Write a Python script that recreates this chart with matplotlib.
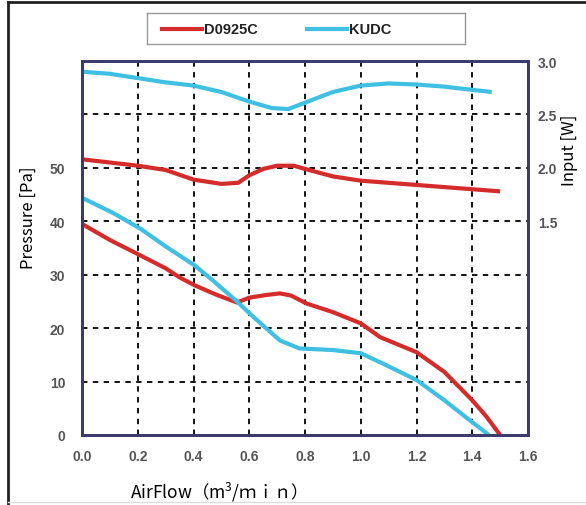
import matplotlib.pyplot as plt
from matplotlib.lines import Line2D

# pressure curves (left axis, Pa)
flow_d = [0.0, 0.1, 0.21, 0.3, 0.35, 0.405, 0.48, 0.556, 0.6, 0.66, 0.71, 0.75, 0.806, 0.9, 1.0, 1.07, 1.2, 1.3, 1.4, 1.45, 1.5]
press_d = [39.5, 36.5, 33.6, 31.2, 29.5, 28.0, 26.3, 24.8, 25.7, 26.2, 26.5, 26.1, 24.6, 23.0, 20.9, 18.3, 15.5, 11.8, 6.5, 3.5, 0.0]

flow_k = [0.0, 0.11, 0.21, 0.3, 0.405, 0.47, 0.556, 0.6, 0.66, 0.71, 0.78, 0.9, 1.0, 1.07, 1.2, 1.3, 1.4, 1.46]
press_k = [44.4, 41.6, 38.6, 35.3, 31.7, 28.9, 25.0, 22.8, 20.0, 17.7, 16.2, 15.9, 15.3, 13.6, 10.3, 6.5, 2.4, 0.0]

# input power curves (right axis, W)
flow_dw = [0.0, 0.1, 0.2, 0.3, 0.4, 0.5, 0.56, 0.6, 0.65, 0.7, 0.76, 0.8, 0.9, 1.0, 1.2, 1.4, 1.5]
input_d = [2.08, 2.05, 2.02, 1.98, 1.89, 1.85, 1.86, 1.93, 1.99, 2.02, 2.02, 1.99, 1.92, 1.88, 1.84, 1.80, 1.78]

flow_kw = [0.0, 0.1, 0.2, 0.3, 0.4, 0.5, 0.6, 0.68, 0.74, 0.8, 0.9, 1.0, 1.1, 1.2, 1.3, 1.4, 1.47]
input_k = [2.90, 2.88, 2.84, 2.80, 2.77, 2.71, 2.62, 2.56, 2.55, 2.61, 2.71, 2.77, 2.79, 2.78, 2.76, 2.73, 2.71]

xticks = [0.0, 0.2, 0.4, 0.6, 0.8, 1.0, 1.2, 1.4, 1.6]
yticks_left = [0, 10, 20, 30, 40, 50]
yticks_right = [1.5, 2.0, 2.5, 3.0]

red = '#d42b2b'
blue = '#3fc0e2'
spine_col = '#3b3b6b'
tick_col = '#555555'
label_font = ['Noto Sans CJK JP', 'DejaVu Sans']

plt.rcParams['font.family'] = ['Liberation Sans', 'DejaVu Sans']
plt.rcParams['mathtext.fontset'] = 'custom'
plt.rcParams['mathtext.rm'] = 'Noto Sans CJK JP'

fig = plt.figure(figsize=(5.86, 5.06), dpi=100)
ax = fig.add_axes([82 / 586, 1 - 436 / 506, 446 / 586, 374 / 506])
ax2 = ax.twinx()

ax.plot(flow_d, press_d, color=red, lw=3, solid_capstyle='butt', zorder=3)
ax.plot(flow_k, press_k, color=blue, lw=3, solid_capstyle='butt', zorder=3)
ax2.plot(flow_dw, input_d, color=red, lw=3, solid_capstyle='butt')
ax2.plot(flow_kw, input_k, color=blue, lw=3, solid_capstyle='butt')

ax.set_xlim(0, 1.6)
ax.set_ylim(0, 70)
ax2.set_ylim(-0.5, 3.0)

ax.set_xticks(xticks)
ax.set_xticklabels([f'{v:.1f}' for v in xticks])
ax.set_yticks(yticks_left)
ax2.set_yticks(yticks_right)
ax2.set_yticklabels([f'{v:.1f}' for v in yticks_right])

# dashed grid
for gx in xticks[1:-1]:
    ax.axvline(gx, color='black', ls=(0, (3, 3)), lw=1.3, zorder=1)
for gy in [10, 20, 30, 40, 50, 60]:
    ax.axhline(gy, color='black', ls=(0, (3, 3)), lw=1.3, zorder=1)

for a in (ax, ax2):
    for s in a.spines.values():
        s.set_color(spine_col)
        s.set_linewidth(2)
    a.tick_params(length=0, labelsize=10, labelcolor=tick_col)
for lab in ax.get_xticklabels() + ax.get_yticklabels() + ax2.get_yticklabels():
    lab.set_fontweight('bold')
ax.tick_params(axis='x', pad=10)
ax.tick_params(axis='y', pad=12)
ax2.tick_params(axis='y', pad=7)

fig.text(28 / 586, 1 - 218 / 506, 'Pressure [Pa]', rotation=90, ha='center', va='center',
         fontsize=12, family=label_font)
fig.text(570 / 586, 1 - 150 / 506, 'Input [W]', rotation=90, ha='center', va='center',
         fontsize=12, family=label_font)
fig.text(130 / 586, 1 - 492 / 506, 'AirFlow（m$^{\\mathrm{3}}$/ｍｉｎ）', ha='left', va='center',
         fontsize=12.5, family=label_font)

# legend box
leg = fig.add_axes([147 / 586, 1 - 45 / 506, 318 / 586, 31 / 506])
leg.set_xlim(0, 318)
leg.set_ylim(0, 31)
leg.set_xticks([])
leg.set_yticks([])
for s in leg.spines.values():
    s.set_color('#999999')
    s.set_linewidth(1)
leg.plot([15, 55], [15, 15], color=red, lw=3)
leg.text(57, 15, 'D0925C', va='center', ha='left', fontsize=10.5, fontweight='bold', color='#222222')
leg.plot([160, 200], [15, 15], color=blue, lw=3)
leg.text(202, 15, 'KUDC', va='center', ha='left', fontsize=10.5, fontweight='bold', color='#222222')

# outer frame: dark left and top, light bottom
fig.add_artist(Line2D([8 / 586, 8 / 586], [1 - 3 / 506, 0], transform=fig.transFigure, color='#222222', lw=2))
fig.add_artist(Line2D([8 / 586, 1], [1 - 3 / 506, 1 - 3 / 506], transform=fig.transFigure, color='#222222', lw=2))
fig.add_artist(Line2D([8 / 586, 1], [1 - 503 / 506, 1 - 503 / 506], transform=fig.transFigure, color='#dddddd', lw=1))

fig.savefig('out.png', dpi=100)
